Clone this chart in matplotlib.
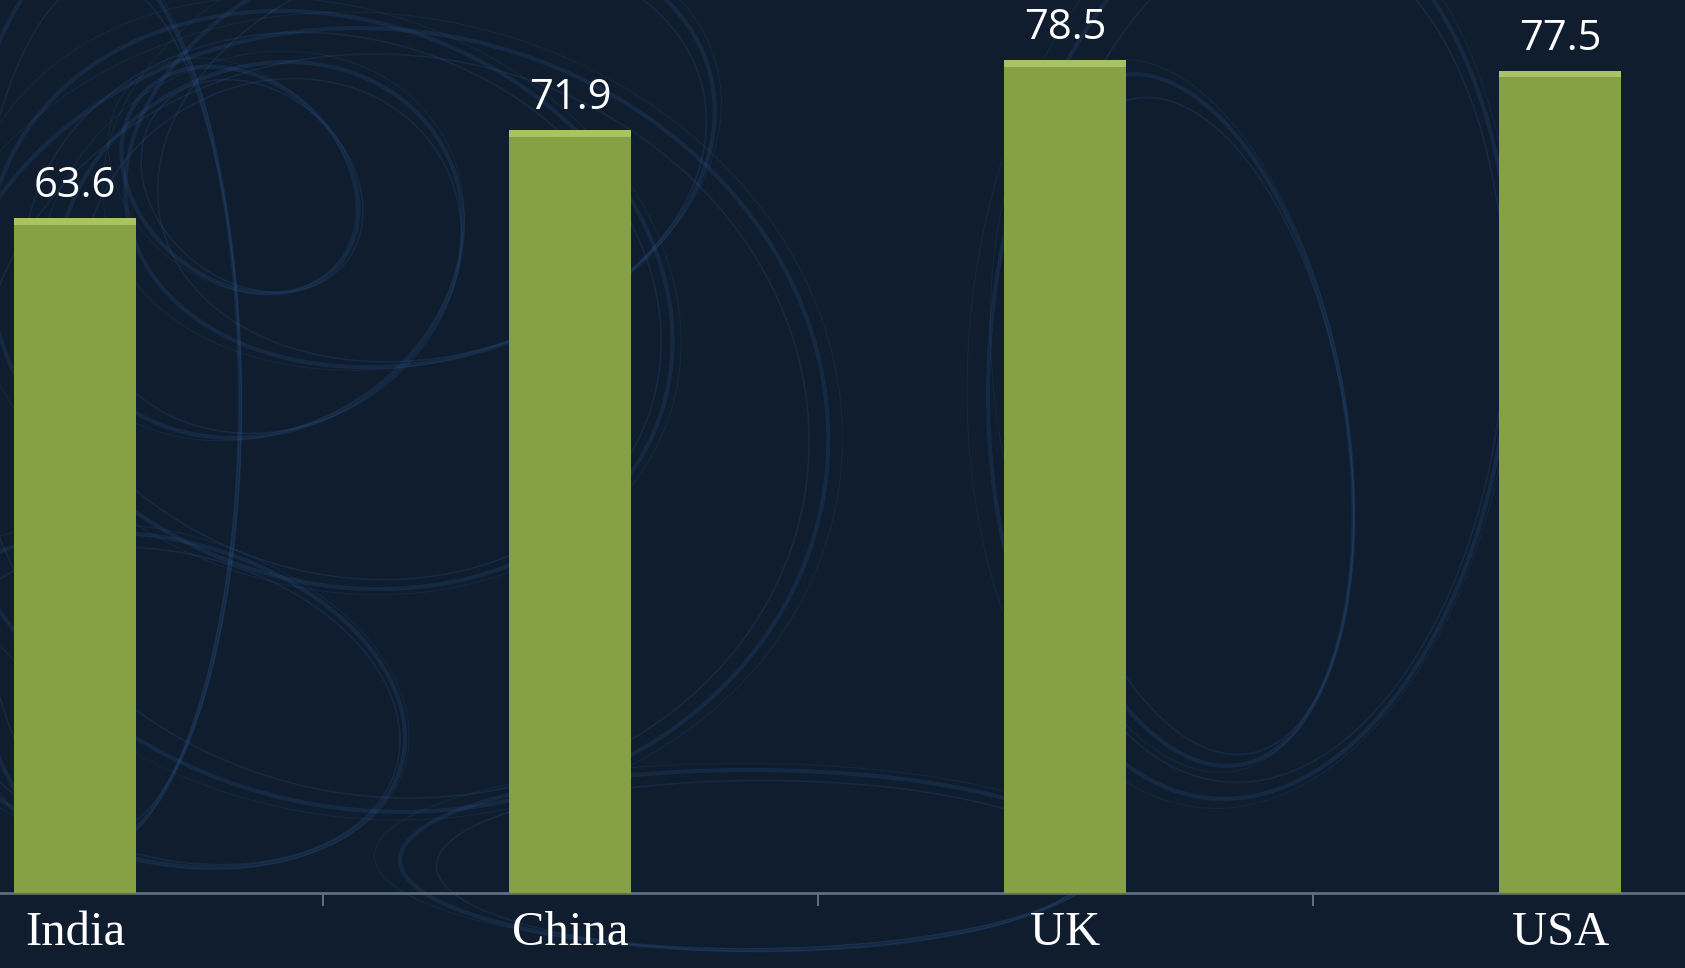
import matplotlib.pyplot as plt
from matplotlib.patches import Arc

countries = ['India', 'China', 'UK', 'USA']
values = [63.6, 71.9, 78.5, 77.5]

bg = '#0f1d2e'
bar_color = '#86a044'

fig = plt.figure(figsize=(16.85, 9.68), dpi=100, facecolor=bg)

# faint swirl decoration behind the chart
deco = fig.add_axes([0, 0, 1, 1])
deco.set_xlim(0, 1685)
deco.set_ylim(968, 0)
deco.set_facecolor(bg)
deco.axis('off')
swirls = [(330, 300, 700, 560, 20), (260, 250, 420, 360, -30), (380, 420, 900, 780, 10),
          (240, 180, 260, 200, 40), (1250, 350, 520, 900, 5), (1180, 420, 330, 700, -10),
          (160, 700, 500, 320, 15), (750, 860, 700, 180, 0), (90, 400, 300, 900, 0),
          (420, 150, 600, 420, -15)]
for cx, cy, w, h, ang in swirls:
    deco.add_patch(Arc((cx, cy), w, h, angle=ang, color='#2f5c9a', lw=3, alpha=0.2))
    deco.add_patch(Arc((cx + 12, cy + 6), w * 0.93, h * 0.95, angle=ang, color='#3a6fb5', lw=1.2, alpha=0.15))
    deco.add_patch(Arc((cx - 8, cy - 4), w * 1.05, h * 1.03, angle=ang, color='#3a6fb5', lw=0.8, alpha=0.12))

ax = fig.add_axes([0, 75 / 968, 1, 893 / 968])
ax.patch.set_alpha(0)
x = range(len(countries))
bars = ax.bar(x, values, width=0.247, color=bar_color, zorder=3)
# lighter bevel on top of each bar
ax.bar(x, [0.6] * len(values), bottom=[v - 0.6 for v in values], width=0.247,
       color='#a9c264', zorder=4)

for xi, v in zip(x, values):
    ax.annotate(f'{v}', (xi, v), xytext=(0, 8), textcoords='offset points',
                ha='center', va='bottom', color='white', fontsize=30, family='Open Sans')

ax.set_xlim(-0.152, 3.252)
ax.set_ylim(0, 84.2)
ax.set_xticks(list(x))
ax.set_xticklabels(countries, family='Liberation Serif', fontsize=35, color='white')
ax.tick_params(axis='x', which='major', length=0, pad=13)
ax.set_xticks([0.5, 1.5, 2.5], minor=True)
ax.tick_params(axis='x', which='minor', length=9, width=1.2, color='#6f7e8c', direction='out')
ax.set_yticks([])
for s in ['top', 'right', 'left']:
    ax.spines[s].set_visible(False)
ax.spines['bottom'].set_color('#5f6e7c')
ax.spines['bottom'].set_linewidth(2)

fig.savefig('out.png', dpi=100, facecolor=bg)
